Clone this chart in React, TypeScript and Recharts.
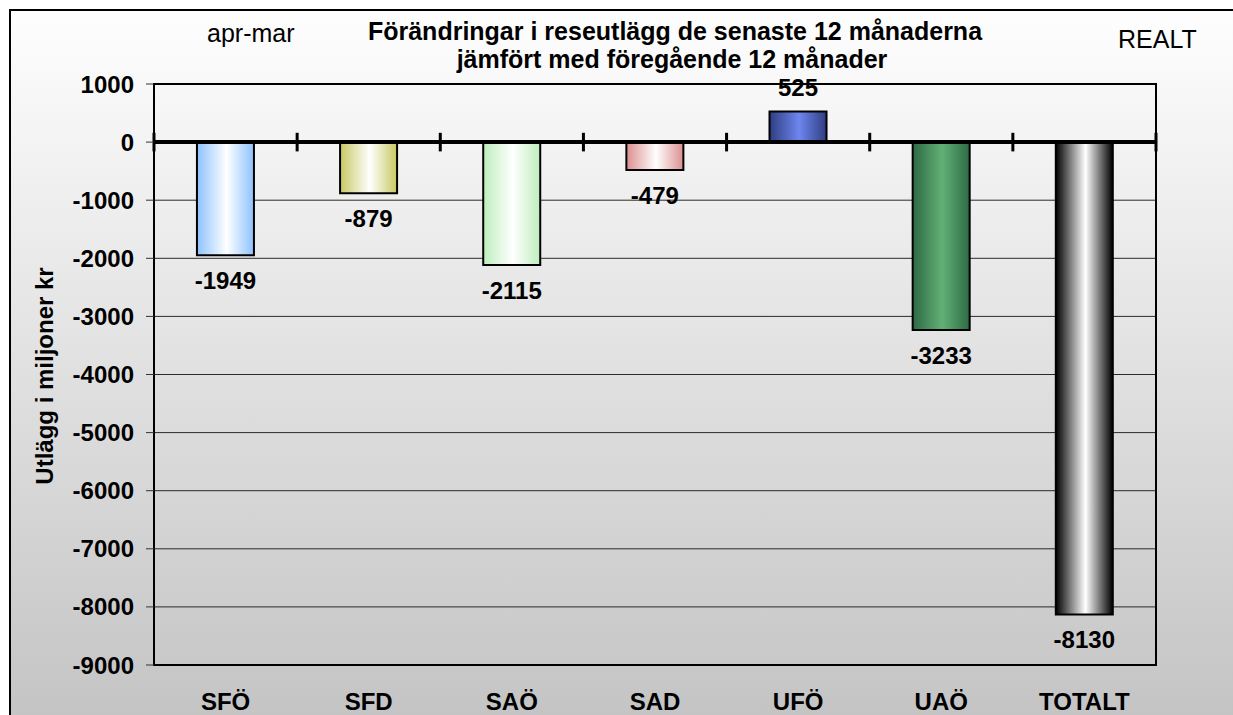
import React from "react";
import {
  BarChart,
  Bar,
  XAxis,
  YAxis,
  CartesianGrid,
  ReferenceLine,
  ReferenceArea,
  Cell,
  LabelList,
} from "recharts";

// Förändringar i reseutlägg, apr-mar, miljoner kr (realt)
const CATEGORIES = ["SFÖ", "SFD", "SAÖ", "SAD", "UFÖ", "UAÖ", "TOTALT"];
const VALUES = [-1949, -879, -2115, -479, 525, -3233, -8130];
const Y_TICKS = [1000, 0, -1000, -2000, -3000, -4000, -5000, -6000, -7000, -8000, -9000];

// bar gradients: edge colour -> centre colour -> edge colour
const EDGE_COLORS = ["#8cc2ff", "#c8c862", "#bdeebd", "#dc8e8e", "#2f3d80", "#2d6a44", "#000000"];
const CENTER_COLORS = ["#ffffff", "#ffffff", "#ffffff", "#ffffff", "#6e86f0", "#62b076", "#ffffff"];

const FONT = '"Liberation Sans", Arial, Helvetica, sans-serif';

const data = CATEGORIES.map((name, i) => ({ name, value: VALUES[i] }));

// little vertical marks across the zero line, at every category boundary
const boundaries = [
  ...CATEGORIES.map((c) => ({ x: c, position: "start" as const })),
  { x: CATEGORIES[CATEGORIES.length - 1], position: "end" as const },
];

function ValueLabel(props: any) {
  const vb = props.viewBox ?? props;
  const x = Number(vb.x);
  const y = Number(vb.y);
  const w = Number(vb.width);
  const h = Number(vb.height);
  const v = Number(props.value);
  const top = Math.min(y, y + h);
  const bottom = Math.max(y, y + h);
  // negatives hang below the bar, positives sit above it
  const ty = v < 0 ? bottom + 34 : top - 16;
  return (
    <text
      x={x + w / 2}
      y={ty}
      textAnchor="middle"
      fontFamily={FONT}
      fontSize={24}
      fontWeight="bold"
      fill="#000"
    >
      {v}
    </text>
  );
}

export default function App() {
  return (
    <div
      style={{
        position: "absolute",
        left: 0,
        top: 0,
        width: 1233,
        height: 715,
        overflow: "hidden",
        background: "#fff",
        fontFamily: FONT,
      }}
    >
      {/* gradient defs live in their own svg; ids are page-global */}
      <svg width={0} height={0} style={{ position: "absolute" }}>
        <defs>
          {EDGE_COLORS.map((edge, i) => (
            <linearGradient key={i} id={`barGrad${i}`} x1="0" y1="0" x2="1" y2="0">
              <stop offset="0%" stopColor={edge} />
              <stop offset="52%" stopColor={CENTER_COLORS[i]} />
              <stop offset="100%" stopColor={edge} />
            </linearGradient>
          ))}
        </defs>
      </svg>

      {/* outer frame with the grey fade */}
      <div
        style={{
          position: "absolute",
          left: 9,
          top: 9,
          width: 1260,
          height: 730,
          border: "2px solid #000",
          background: "linear-gradient(to bottom, #fefefe 0%, #c2c2c2 100%)",
        }}
      />

      <div style={{ position: "absolute", left: 0, top: 0 }}>
        <BarChart
          width={1233}
          height={715}
          data={data}
          margin={{ top: 84, right: 77, bottom: 0, left: 0 }}
          barCategoryGap="30%"
        >
          <CartesianGrid horizontal vertical={false} stroke="#2a2a2a" strokeWidth={1} />
          <XAxis
            dataKey="name"
            height={50}
            axisLine={false}
            tickLine={false}
            tickSize={0}
            tickMargin={28}
            interval={0}
            tick={{ fontSize: 24, fontWeight: "bold", fill: "#000", fontFamily: FONT }}
          />
          <YAxis
            width={154}
            domain={[-9000, 1000]}
            ticks={Y_TICKS}
            interval={0}
            axisLine={false}
            tickLine={{ stroke: "#333", strokeWidth: 1 }}
            tickSize={8}
            tickMargin={12}
            tick={{ fontSize: 24, fontWeight: "bold", fill: "#000", fontFamily: FONT }}
          />
          <ReferenceArea
            y1={1000}
            y2={-9000}
            fill="none"
            fillOpacity={0}
            stroke="#000"
            strokeWidth={2}
            ifOverflow="visible"
          />
          <Bar dataKey="value" isAnimationActive={false} stroke="#000" strokeWidth={2}>
            {data.map((d, i) => (
              <Cell key={d.name} fill={`url(#barGrad${i})`} />
            ))}
            <LabelList dataKey="value" content={ValueLabel} />
          </Bar>
          <ReferenceLine y={0} stroke="#000" strokeWidth={4} ifOverflow="visible" />
          {boundaries.map((b, i) => (
            <ReferenceLine
              key={i}
              segment={[
                { x: b.x, y: 160 },
                { x: b.x, y: -160 },
              ]}
              position={b.position}
              stroke="#000"
              strokeWidth={3}
              ifOverflow="visible"
            />
          ))}
        </BarChart>
      </div>

      {/* titles and axis name */}
      <svg
        width={1233}
        height={715}
        style={{ position: "absolute", left: 0, top: 0, pointerEvents: "none" }}
        fontFamily={FONT}
      >
        <text x={207} y={42} fontSize={25} fill="#000">
          apr-mar
        </text>
        <text x={675} y={40} fontSize={25} fontWeight="bold" textAnchor="middle" fill="#000">
          Förändringar i reseutlägg de senaste 12 månaderna
        </text>
        <text x={672} y={68} fontSize={25} fontWeight="bold" textAnchor="middle" fill="#000">
          jämfört med föregående 12 månader
        </text>
        <text x={1118} y={48} fontSize={25} fill="#000">
          REALT
        </text>
        <text
          x={53}
          y={376}
          fontSize={24}
          fontWeight="bold"
          textAnchor="middle"
          transform="rotate(-90 53 376)"
          fill="#000"
        >
          Utlägg i miljoner kr
        </text>
      </svg>
    </div>
  );
}
